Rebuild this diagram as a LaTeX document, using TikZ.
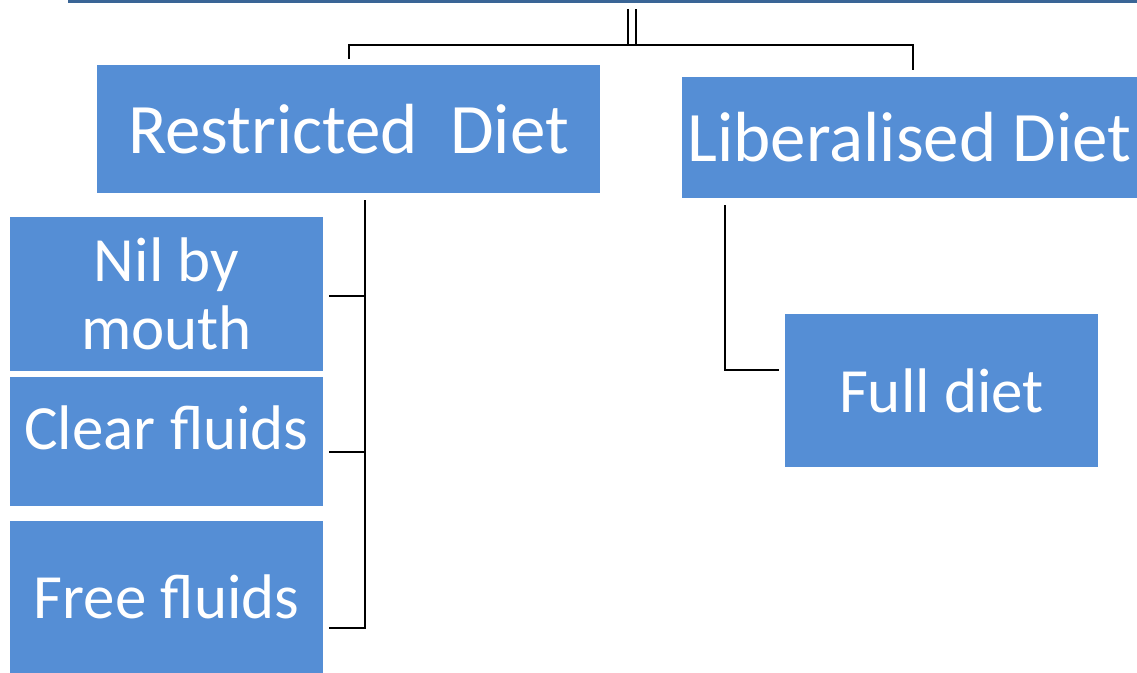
\documentclass[tikz,border=0pt]{standalone}
\usepackage{fontspec}
\setmainfont{Carlito}
\usepackage{xcolor}
\usetikzlibrary{positioning,calc}
\definecolor{boxblue}{HTML}{558ED5}
\definecolor{barblue}{HTML}{3A6596}

\begin{document}
\begin{tikzpicture}[
		x=0.5pt, y=-0.5pt,
		block/.style={
			rectangle, 
			fill=boxblue, 
			text=white, 
			align=center, 
			inner sep=0pt,
			minimum width=156.5pt,
			font=\fontsize{31.5}{34}\selectfont
			},
		bigblock/.style={
			block,
			font=\fontsize{35.5}{40}\selectfont
			},
		line/.style={
			draw,
			line width=1pt
			}]
	    \useasboundingbox (0,0) rectangle (1137,673);

	    % Place nodes
	    \node [rectangle, fill=barblue, inner sep=0pt, minimum width=534.5pt, minimum height=1.75pt] (bar) at (602.5,1.75) {};
	    \node [bigblock, minimum width=251.5pt, minimum height=64pt] (restricted) at (348.5,129) {Restricted\ \ Diet};
	    \node [bigblock, minimum width=227.5pt, minimum height=60.5pt] (liberal) at (909.5,137.5) {Liberalised Diet};
	    \node [block, minimum height=77pt] (nil) at (166.5,294) {Nil by\\mouth};
	    \node [block, minimum height=64.5pt, text depth=14pt] (clear) at (166.5,441.5) {Clear fluids};
	    \node [block, minimum height=76pt] (free) at (166.5,597) {Free fluids};
	    \node [block, minimum height=76.5pt] (full) at (941.5,390.5) {Full diet};

	    % Junction points
	    \coordinate (drop) at ($(bar.south)+(29.5,5.5)$);
	    \coordinate (hub) at ($(drop)+(0,36)$);
	    \coordinate (rtrunk) at ($(restricted.south)+(16.5,7)$);
	    \coordinate (nilend) at ($(nil.east)+(6,2)$);
	    \coordinate (clearend) at ($(clear.east)+(6,10.5)$);
	    \coordinate (freeend) at ($(free.east)+(6,31)$);
	    \coordinate (ltrunk) at ($(liberal.south)+(-184.5,7)$);
	    \coordinate (fullend) at ($(full.west)+(-6,-20.5)$);

	    % Draw edges
	    \path [line, line width=0.75pt, double, double distance=3.25pt] (drop) -- (hub);
	    \path [line] ($(restricted.north)+(0,-6)$) |- (hub);
	    \path [line] (hub) -| ($(liberal.north)+(3.5,-7)$);
	    \path [line] (rtrunk) |- (freeend);
	    \path [line] (nilend) -- (nilend -| rtrunk);
	    \path [line] (clearend) -- (clearend -| rtrunk);
	    \path [line] (ltrunk) |- (fullend);
	\end{tikzpicture}
\end{document}
